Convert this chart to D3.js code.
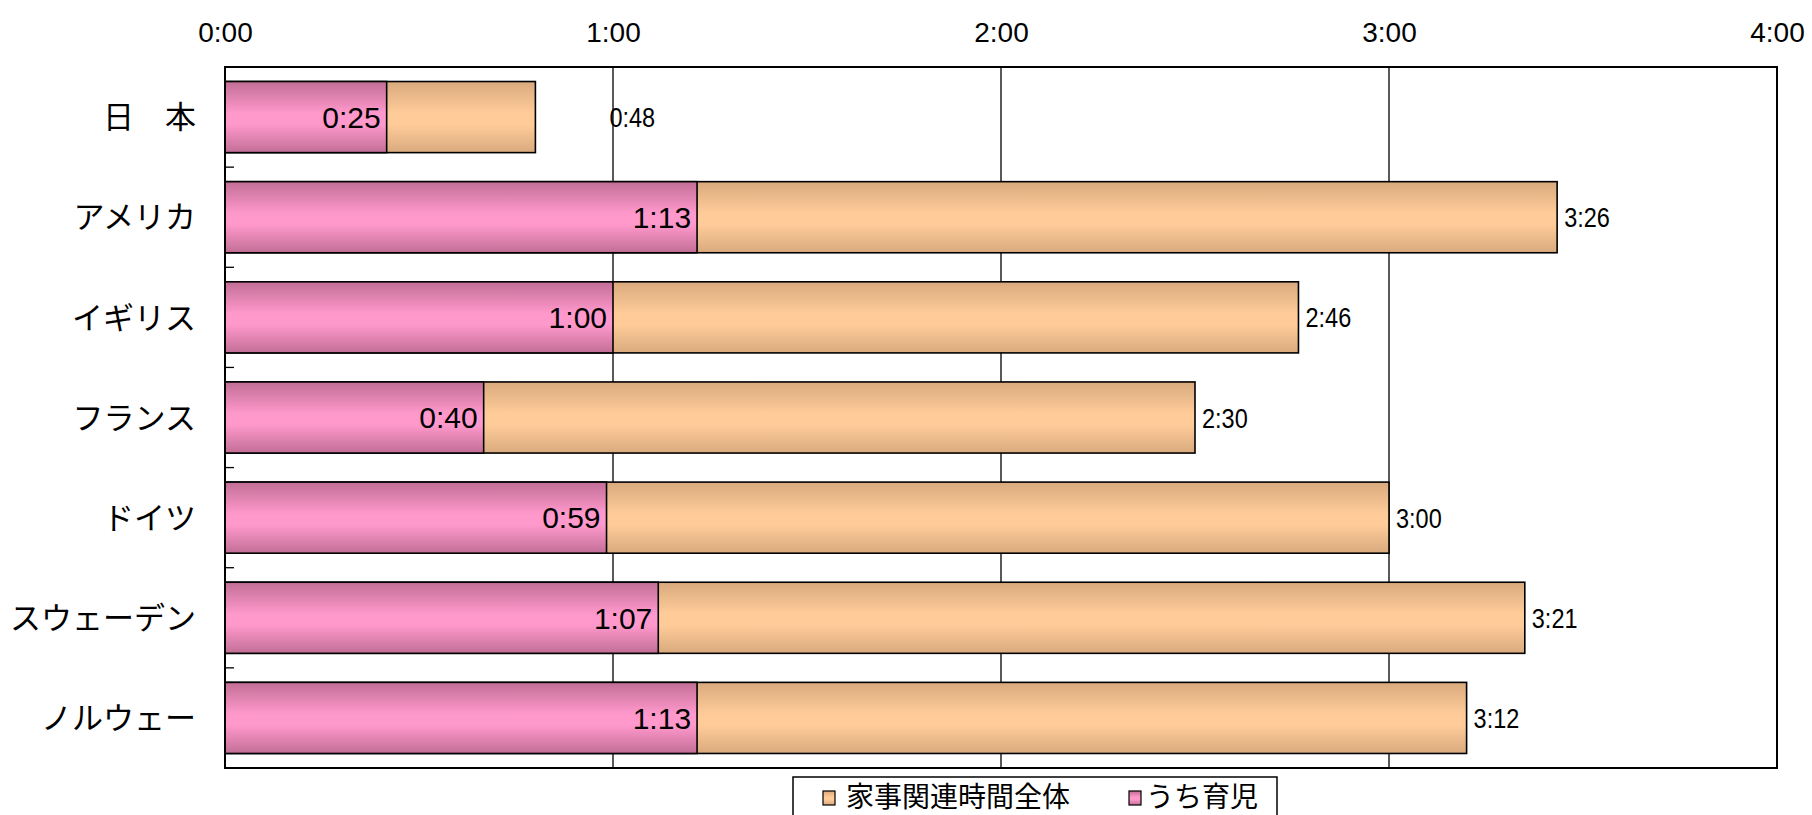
<!DOCTYPE html>
<html lang="ja">
<head>
<meta charset="UTF-8">
<title>家事関連時間</title>
<style>
    body { margin: 0; background: #fff; }
    .num { font-family: "Liberation Sans", Arial, sans-serif; font-size: 28px; fill: #000; }
    .inner { font-family: "Liberation Sans", Arial, sans-serif; font-size: 30px; fill: #000; }
    .total { font-family: "Liberation Sans", sans-serif; font-size: 28px; fill: #000; }
    .cat { font-family: "Noto Sans CJK JP", sans-serif; font-size: 31px; fill: #000; }
    .jp { font-family: "Noto Sans CJK JP", sans-serif; font-size: 28px; fill: #000; }
</style>
</head>
<body>
<script src="https://d3js.org/d3.v7.min.js"></script>
<script>
    // data (minutes)
    var categories = ["日　本", "アメリカ", "イギリス", "フランス", "ドイツ", "スウェーデン", "ノルウェー"];
    var totalMinutes = [48, 206, 166, 150, 180, 201, 192];      // 家事関連時間全体
    var childcareMinutes = [25, 73, 60, 40, 59, 67, 73];      // うち育児
    var tickMinutes = [0, 60, 120, 180, 240];
    var seriesNames = ["家事関連時間全体", "うち育児"];

    var W = 1812, H = 815;
    var plotL = 225, plotR = 1777, plotT = 67, plotB = 768;

    function fmt(m) {
        var mm = m % 60;
        return Math.floor(m / 60) + ":" + (mm < 10 ? "0" : "") + mm;
    }

    var svg = d3.select("body").append("svg")
        .attr("width", W)
        .attr("height", H);

    // gradients, dark at the edges and light in the middle
    var defs = svg.append("defs");
    function grad(id, edge, mid) {
        var g = defs.append("linearGradient").attr("id", id)
            .attr("x1", 0).attr("y1", 0).attr("x2", 0).attr("y2", 1);
        g.append("stop").attr("offset", "0%").attr("stop-color", edge);
        g.append("stop").attr("offset", "45%").attr("stop-color", mid);
        g.append("stop").attr("offset", "60%").attr("stop-color", mid);
        g.append("stop").attr("offset", "100%").attr("stop-color", edge);
    }
    grad("gOrange", "#d9aa7e", "#ffcc99");
    grad("gPink", "#c26e96", "#ff99cc");

    var x = d3.scaleLinear().domain([0, 240]).range([plotL, plotR]);
    var y = d3.scaleBand().domain(categories).range([plotT, plotB])
        .paddingInner(0.29).paddingOuter(0.145);

    // vertical grid lines
    svg.append("g").selectAll("line")
        .data(tickMinutes.slice(1, -1))
        .enter().append("line")
        .attr("x1", function (d) { return x(d); })
        .attr("x2", function (d) { return x(d); })
        .attr("y1", plotT).attr("y2", plotB)
        .attr("stroke", "#000").attr("stroke-width", 1.3);

    // top axis labels
    var xAxis = d3.axisTop(x).tickValues(tickMinutes).tickFormat(fmt)
        .tickSize(0).tickPadding(25);
    var gx = svg.append("g").attr("transform", "translate(0," + plotT + ")").call(xAxis);
    gx.select(".domain").remove();
    gx.selectAll("text").attr("class", "num");
    gx.attr("font-size", null).attr("font-family", null);

    // category labels
    var yAxis = d3.axisLeft(y).tickSize(0).tickPadding(29);
    var gy = svg.append("g").attr("transform", "translate(" + plotL + ",0)").call(yAxis);
    gy.select(".domain").remove();
    gy.attr("font-size", null).attr("font-family", null);
    gy.selectAll("text").attr("class", "cat").attr("dy", "0.36em");

    // small ticks on the category boundaries
    var bounds = categories.map(function (c) { return y(c) - y.step() * y.paddingOuter(); });
    bounds.push(plotB);
    svg.append("g").selectAll("line")
        .data(bounds)
        .enter().append("line")
        .attr("x1", plotL).attr("x2", plotL + 9)
        .attr("y1", function (d) { return d; })
        .attr("y2", function (d) { return d; })
        .attr("stroke", "#000").attr("stroke-width", 1.3);

    var rows = categories.map(function (c, i) {
        return {cat: c, total: totalMinutes[i], child: childcareMinutes[i]};
    });

    // total bars
    svg.append("g").selectAll("rect")
        .data(rows)
        .enter().append("rect")
        .attr("x", x(0))
        .attr("y", function (d) { return y(d.cat); })
        .attr("width", function (d) { return x(d.total) - x(0); })
        .attr("height", y.bandwidth())
        .attr("fill", "url(#gOrange)")
        .attr("stroke", "#000").attr("stroke-width", 1.6);

    // childcare bars
    svg.append("g").selectAll("rect")
        .data(rows)
        .enter().append("rect")
        .attr("x", x(0))
        .attr("y", function (d) { return y(d.cat); })
        .attr("width", function (d) { return x(d.child) - x(0); })
        .attr("height", y.bandwidth())
        .attr("fill", "url(#gPink)")
        .attr("stroke", "#000").attr("stroke-width", 1.6);

    // labels
    svg.append("g").selectAll("text")
        .data(rows)
        .enter().append("text")
        .attr("class", "inner")
        .attr("x", function (d) { return x(d.child) - 6; })
        .attr("y", function (d) { return y(d.cat) + y.bandwidth() / 2; })
        .attr("dy", "0.36em")
        .attr("text-anchor", "end")
        .text(function (d) { return fmt(d.child); });

    // the Japan total label sits further out, next to the 1:00 line
    // total labels are in a narrow face, so squeeze them horizontally
    var labelNudge = {"日　本": 67};
    svg.append("g").selectAll("text")
        .data(rows)
        .enter().append("text")
        .attr("class", "total")
        .attr("transform", function (d) {
            var tx = x(d.total) + 7 + (labelNudge[d.cat] || 0);
            var ty = y(d.cat) + y.bandwidth() / 2;
            return "translate(" + tx + "," + ty + ") scale(0.84,1)";
        })
        .attr("dy", "0.36em")
        .text(function (d) { return fmt(d.total); });

    // plot frame
    svg.append("rect")
        .attr("x", plotL).attr("y", plotT)
        .attr("width", plotR - plotL).attr("height", plotB - plotT)
        .attr("fill", "none").attr("stroke", "#000").attr("stroke-width", 2);

    // legend
    var lg = svg.append("g");
    lg.append("rect").attr("x", 793).attr("y", 777).attr("width", 484).attr("height", 60)
        .attr("fill", "#fff").attr("stroke", "#000").attr("stroke-width", 1.5);
    var items = [
        {name: seriesNames[0], fill: "url(#gOrange)", sx: 823, tx: 846},
        {name: seriesNames[1], fill: "url(#gPink)", sx: 1129, tx: 1146}
    ];
    items.forEach(function (it) {
        lg.append("rect").attr("x", it.sx).attr("y", 791).attr("width", 12).attr("height", 14)
            .attr("fill", it.fill).attr("stroke", "#000").attr("stroke-width", 1.2);
        lg.append("text").attr("class", "jp").attr("x", it.tx).attr("y", 797)
            .attr("dy", "0.36em").text(it.name);
    });
</script>
</body>
</html>
